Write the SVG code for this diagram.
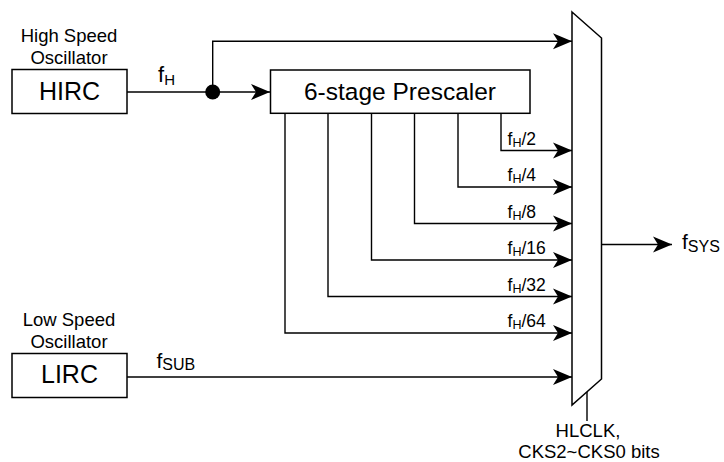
<svg xmlns="http://www.w3.org/2000/svg" width="724" height="462" viewBox="0 0 724 462">
<defs>
<marker id="arr" markerUnits="userSpaceOnUse" viewBox="-20 -9 21 18" refX="0" refY="0" markerWidth="21" markerHeight="18" orient="auto">
<path d="M0,0 L-19,-8 L-14,0 L-19,8 Z" fill="#000"/>
</marker>
<style>
text{font-family:"Liberation Sans",Arial,sans-serif;fill:#000}
.box{fill:#fff;stroke:#000;stroke-width:1.5}
.ln{fill:none;stroke:#000;stroke-width:1.4}
.a{marker-end:url(#arr)}
.cap{font-size:18.5px;text-anchor:middle}
.big{font-size:25px;text-anchor:middle}
.lbl{font-size:17.5px}
</style>
</defs>
<rect width="724" height="462" fill="#fff"/>
<g id="connectors">
<path class="ln" d="M127,92 H212.7"/>
<path class="ln a" d="M212.7,92 H270"/>
<path class="ln a" d="M212.7,92 V41.3 H572"/>
<path class="ln a" d="M501,113 V150.5 H572"/>
<path class="ln a" d="M458,113 V187 H572"/>
<path class="ln a" d="M414.5,113 V223.5 H572"/>
<path class="ln a" d="M371.5,113 V260 H572"/>
<path class="ln a" d="M328,113 V296.5 H572"/>
<path class="ln a" d="M285,113 V333 H572"/>
<path class="ln a" d="M127,377 H572"/>
<path class="ln a" d="M601.5,244.5 H672"/>
<path class="ln" d="M587,392 V421"/>
<circle cx="212.7" cy="92" r="7.5" fill="#000"/>
<text x="158" y="82" font-size="22">f<tspan dy="3" font-size="15">H</tspan></text>
<text x="156.5" y="368" font-size="21">f<tspan dy="2" font-size="16">SUB</tspan></text>
<text x="682" y="248.5" font-size="21">f<tspan dy="3" font-size="16">SYS</tspan></text>
<text class="lbl" x="507.5" y="144.5">f<tspan dy="2" font-size="12.5">H</tspan><tspan dy="-2">/2</tspan></text>
<text class="lbl" x="507.5" y="181">f<tspan dy="2" font-size="12.5">H</tspan><tspan dy="-2">/4</tspan></text>
<text class="lbl" x="507.5" y="217.5">f<tspan dy="2" font-size="12.5">H</tspan><tspan dy="-2">/8</tspan></text>
<text class="lbl" x="507.5" y="254">f<tspan dy="2" font-size="12.5">H</tspan><tspan dy="-2">/16</tspan></text>
<text class="lbl" x="507.5" y="290.5">f<tspan dy="2" font-size="12.5">H</tspan><tspan dy="-2">/32</tspan></text>
<text class="lbl" x="507.5" y="327">f<tspan dy="2" font-size="12.5">H</tspan><tspan dy="-2">/64</tspan></text>
</g>
<g id="hirc">
<text class="cap" x="69" y="42">High Speed</text>
<text class="cap" x="69" y="64">Oscillator</text>
<rect class="box" x="12" y="69.5" width="115" height="44"/>
<text class="big" x="69.5" y="99.5">HIRC</text>
</g>
<g id="lirc">
<text class="cap" x="69" y="326">Low Speed</text>
<text class="cap" x="69" y="348">Oscillator</text>
<rect class="box" x="12" y="353.5" width="115" height="44"/>
<text class="big" x="69.5" y="383">LIRC</text>
</g>
<g id="prescaler">
<rect class="box" x="270.5" y="70" width="259.5" height="43.3"/>
<text x="400" y="100" font-size="24.5" text-anchor="middle">6-stage Prescaler</text>
</g>
<g id="mux">
<polygon class="box" points="572,12 601.5,38 601.5,379 572,405"/>
<text class="cap" x="588" y="437">HLCLK,</text>
<text class="cap" x="589" y="457.5">CKS2~CKS0 bits</text>
</g>
</svg>
